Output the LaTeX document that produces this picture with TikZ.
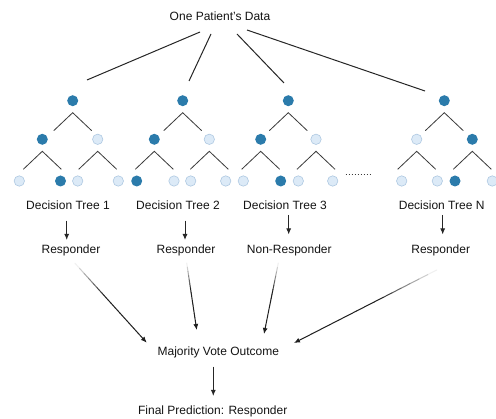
\documentclass[tikz,border=0pt]{standalone}
\usepackage{fontspec}
\setmainfont{Liberation Sans}
\usetikzlibrary{calc,arrows.meta}
\definecolor{darknode}{HTML}{2B7BAB}
\definecolor{lightfill}{HTML}{DCEAF7}
\definecolor{lightborder}{HTML}{AFC9E2}
\definecolor{linegray}{HTML}{3A3A3A}
\tikzset{
  dk/.style={circle,fill=darknode,inner sep=0pt,minimum size=11pt},
  lt/.style={circle,fill=lightfill,draw=lightborder,line width=0.6pt,inner sep=0pt,minimum size=10.4pt},
  lbl/.style={font=\fontsize{12}{14}\selectfont,anchor=base,inner sep=0pt,text=black!92},
  branch/.style={draw=linegray,line width=0.8pt},
  feed/.style={draw=black!85,line width=1pt},
  shortarrow/.style={draw=black!85,line width=1pt,-{Latex[length=6pt,width=5pt]}},
}
\newcommand{\legs}[1]{\draw[branch] ($(#1)+(-19,30)$) -- ($(#1)+(0,12)$) -- ($(#1)+(19,30)$);}
\newcommand{\fadearrow}[2]{%
  \foreach \i in {0,...,15}{%
    \pgfmathsetmacro{\pa}{\i/16}%
    \pgfmathsetmacro{\pb}{(\i+1)/16}%
    \pgfmathsetmacro{\pc}{min(88,6+82*\i/6)}%
    \ifnum\i<15
      \draw[line width=1pt,draw=black!\pc,line cap=round] ($(#1)!\pa!(#2)$) -- ($(#1)!\pb!(#2)$);
    \else
      \draw[line width=1pt,draw=black!\pc,-{Latex[length=6pt,width=5pt]}] ($(#1)!\pa!(#2)$) -- ($(#1)!\pb!(#2)$);
    \fi
  }%
}
\begin{document}
\begin{tikzpicture}[x=1pt,y=-1pt]
\useasboundingbox (0,0) rectangle (496,419);
\fill[white] (0,0) rectangle (496,419);

% top text
\node[lbl] (data) at (220,20.5) {One Patient's Data};

% tree 1
\node[dk] (t1r) at (72.7,100.7) {};
\node[dk] (t1a) at (42.3,139.3) {};
\node[lt] (t1b) at (97.7,139.3) {};
\node[lt] (t1c) at (19.3,181) {};
\node[dk] (t1d) at (60.5,181) {};
\node[lt] (t1e) at (77.7,181) {};
\node[lt] (t1f) at (118.3,181) {};
% tree 2
\node[dk] (t2r) at (182.7,100.7) {};
\node[dk] (t2a) at (154.3,139.3) {};
\node[lt] (t2b) at (209.3,139.3) {};
\node[dk] (t2c) at (136.7,181) {};
\node[lt] (t2d) at (174,181) {};
\node[lt] (t2e) at (190.7,181) {};
\node[lt] (t2f) at (225.7,181) {};
% tree 3
\node[dk] (t3r) at (288.3,100.7) {};
\node[dk] (t3a) at (260.7,139.3) {};
\node[lt] (t3b) at (316,139.3) {};
\node[lt] (t3c) at (243.3,181) {};
\node[dk] (t3d) at (280.7,181) {};
\node[lt] (t3e) at (298.3,181) {};
\node[lt] (t3f) at (332.7,181) {};
% tree N
\node[dk] (t4r) at (444.3,100.7) {};
\node[lt] (t4a) at (416.7,139.3) {};
\node[dk] (t4b) at (472.3,139.3) {};
\node[lt] (t4c) at (401.7,181) {};
\node[lt] (t4d) at (437.3,181) {};
\node[dk] (t4e) at (455,181) {};
\node[lt] (t4f) at (492.3,181) {};

\foreach \t in {t1,t2,t3,t4}{
  \legs{\t r}
  \legs{\t a}
  \legs{\t b}
}

% dots
\draw[draw=linegray,line width=1.2pt,dash pattern=on 1.3pt off 1.7pt] (345.5,174.3) -- (370,174.3);

% lines from data
\coordinate (d1) at (200,32); \coordinate (e1) at (87,80);
\coordinate (d2) at (211,34); \coordinate (e2) at (189,81);
\coordinate (d3) at (237,34); \coordinate (e3) at (284,83);
\coordinate (d4) at (247,30); \coordinate (e4) at (425,91);
\draw[feed] (d1) -- (e1);
\draw[feed] (d2) -- (e2);
\draw[feed] (d3) -- (e3);
\draw[feed] (d4) -- (e4);

% labels
\node[lbl] (n1) at (68,209.5) {Decision Tree 1};
\node[lbl] (n2) at (178,209.5) {Decision Tree 2};
\node[lbl] (n3) at (285,209.5) {Decision Tree 3};
\node[lbl] (n4) at (441.7,209.5) {Decision Tree N};

\node[lbl] (r1) at (71,253.5) {Responder};
\node[lbl] (r2) at (186,253.5) {Responder};
\node[lbl] (r3) at (289.3,253.5) {Non-Responder};
\node[lbl] (r4) at (440.7,253.5) {Responder};

\draw[shortarrow] (66.7,220.7) -- (66.7,240);
\draw[shortarrow] (185,220.7) -- (185,240);
\draw[shortarrow] (288.7,215) -- (288.7,234.5);
\draw[shortarrow] (442.7,215) -- (442.7,234.5);

\node[lbl] (mv) at (218.3,356) {Majority Vote Outcome};
\node[lbl] (fp) at (212.7,415) {Final Prediction: Responder};

% converging arrows
\coordinate (s1) at (75,263.3);   \coordinate (m1) at (146.7,342.7);
\coordinate (s2) at (186.7,263);  \coordinate (m2) at (196.7,330);
\coordinate (s3) at (278.3,263);  \coordinate (m3) at (264,334);
\coordinate (s4) at (436.7,270);  \coordinate (m4) at (294,343);
\fadearrow{s1}{m1}
\fadearrow{s2}{m2}
\fadearrow{s3}{m3}
\fadearrow{s4}{m4}

\draw[shortarrow] (213.3,366.7) -- (213.3,396);
\end{tikzpicture}
\end{document}
